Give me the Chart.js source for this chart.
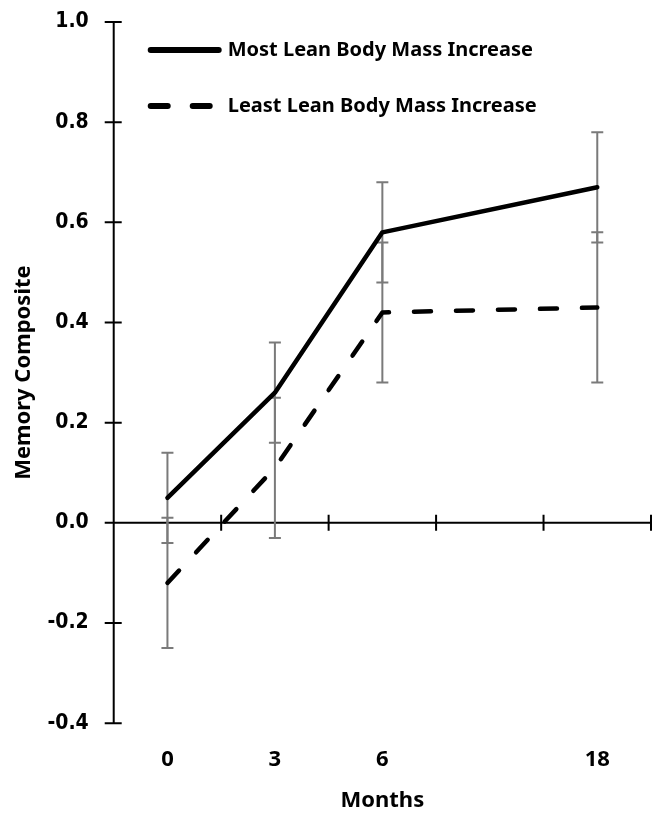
<!DOCTYPE html>
<html>
<head>
<meta charset="utf-8">
<script src="https://cdn.jsdelivr.net/npm/chart.js@4"></script>
<style>
  html, body { margin: 0; padding: 0; background: #fff; }
</style>
</head>
<body>
<canvas id="memoryChart" width="654" height="814"></canvas>
<script>
// values
var months = ['0', '3', '6', '', '18']; // empty slot keeps 6 -> 18 spacing
var mostLean = [0.05, 0.26, 0.58, null, 0.67];
var mostLeanErr = [0.09, 0.10, 0.10, null, 0.11];
var leastLean = [-0.12, 0.11, 0.42, null, 0.43];
var leastLeanErr = [0.13, 0.14, 0.14, null, 0.15];
var yTicks = [-0.4, -0.2, 0.0, 0.2, 0.4, 0.6, 0.8, 1.0];

var labelFont = "'Noto Sans', 'Open Sans', sans-serif";
var tickFont = "'DejaVu Sans Condensed', 'DejaVu Sans', sans-serif";

// axis lines drawn through the zero line, ticks crossing both sides
var crossAxes = {
    id: 'crossAxes',
    beforeDatasetsDraw: function (chart) {
        var ctx = chart.ctx, area = chart.chartArea;
        var x = chart.scales.x, y = chart.scales.y;
        var y0 = y.getPixelForValue(0);
        ctx.save();
        ctx.strokeStyle = '#000';
        ctx.lineWidth = 2;
        ctx.beginPath();
        ctx.moveTo(area.left, area.top);
        ctx.lineTo(area.left, area.bottom);
        yTicks.forEach(function (v) {
            var py = y.getPixelForValue(v);
            ctx.moveTo(area.left - 9, py);
            ctx.lineTo(area.left + 8, py);
        });
        ctx.moveTo(area.left, y0);
        ctx.lineTo(area.right, y0);
        var half = (x.getPixelForValue(1) - x.getPixelForValue(0)) / 2;
        for (var i = 0; i < months.length; i++) {
            var px = x.getPixelForValue(i) + half;
            ctx.moveTo(px, y0 - 8);
            ctx.lineTo(px, y0 + 8);
        }
        ctx.stroke();
        ctx.restore();
    }
};

// grey error bars under the lines
var errorBars = {
    id: 'errorBars',
    beforeDatasetsDraw: function (chart) {
        var ctx = chart.ctx;
        var x = chart.scales.x, y = chart.scales.y;
        ctx.save();
        ctx.strokeStyle = '#7a7a7a';
        ctx.lineWidth = 2;
        chart.data.datasets.forEach(function (ds) {
            ds.data.forEach(function (v, i) {
                if (v === null) return;
                var px = x.getPixelForValue(i);
                var top = y.getPixelForValue(v + ds.errors[i]);
                var bot = y.getPixelForValue(v - ds.errors[i]);
                ctx.beginPath();
                ctx.moveTo(px, top);
                ctx.lineTo(px, bot);
                ctx.moveTo(px - 6, top);
                ctx.lineTo(px + 6, top);
                ctx.moveTo(px - 6, bot);
                ctx.lineTo(px + 6, bot);
                ctx.stroke();
            });
        });
        ctx.restore();
    }
};

// legend sits inside the plot, top left
var innerLegend = {
    id: 'innerLegend',
    afterDatasetsDraw: function (chart) {
        var ctx = chart.ctx, area = chart.chartArea;
        ctx.save();
        chart.data.datasets.forEach(function (ds, i) {
            var ly = area.top + 28 + i * 56;
            ctx.strokeStyle = ds.borderColor;
            ctx.lineWidth = 6;
            ctx.lineCap = 'round';
            ctx.setLineDash(ds.borderDash || []);
            ctx.beginPath();
            ctx.moveTo(area.left + 37, ly);
            ctx.lineTo(area.left + 105, ly);
            ctx.stroke();
            ctx.setLineDash([]);
            ctx.fillStyle = '#000';
            ctx.font = 'bold 20px ' + labelFont;
            ctx.textBaseline = 'middle';
            ctx.fillText(ds.label, area.left + 114, ly);
        });
        ctx.restore();
    }
};

var memoryChart = new Chart(document.getElementById('memoryChart'), {
    type: 'line',
    data: {
        labels: months,
        datasets: [{
                label: 'Most Lean Body Mass Increase',
                data: mostLean,
                errors: mostLeanErr,
                borderColor: '#000',
                borderWidth: 4.5,
                borderJoinStyle: 'round',
                borderCapStyle: 'round',
                pointRadius: 0,
                spanGaps: true,
                fill: false
            },
            {
                label: 'Least Lean Body Mass Increase',
                data: leastLean,
                errors: leastLeanErr,
                borderColor: '#000',
                borderWidth: 4.5,
                borderDash: [17, 25],
                borderJoinStyle: 'round',
                borderCapStyle: 'round',
                pointRadius: 0,
                spanGaps: true,
                fill: false
            }
        ]
    },
    options: {
        responsive: false,
        animation: false,
        devicePixelRatio: 1,
        layout: { padding: { left: 0, right: 3, top: 22, bottom: 0 } },
        plugins: {
            legend: { display: false },
            tooltip: { enabled: false }
        },
        scales: {
            x: {
                type: 'category',
                offset: true,
                // tick marks hidden, tickLength only spaces the labels
                grid: { display: false, drawTicks: true, tickLength: 17 },
                border: { display: false },
                ticks: {
                    color: '#000',
                    font: { family: labelFont, size: 22, weight: 'bold' },
                    padding: 6,
                    autoSkip: false,
                    maxRotation: 0
                },
                title: {
                    display: true,
                    text: 'Months',
                    color: '#000',
                    font: { family: labelFont, size: 22, weight: 'bold' },
                    padding: { top: 9, bottom: 0 }
                }
            },
            y: {
                min: yTicks[0],
                max: yTicks[yTicks.length - 1],
                grid: { display: false, drawTicks: true, tickLength: 20 },
                border: { display: false },
                ticks: {
                    stepSize: 0.2,
                    color: '#000',
                    font: { family: tickFont, size: 21, weight: 'bold' },
                    padding: 5,
                    callback: function (v) {
                        return (Math.abs(v) < 1e-9 ? 0 : v).toFixed(1);
                    }
                },
                title: {
                    display: true,
                    text: 'Memory Composite',
                    color: '#000',
                    font: { family: labelFont, size: 22, weight: 'bold' },
                    padding: { top: 11, bottom: 5 }
                }
            }
        }
    },
    plugins: [crossAxes, errorBars, innerLegend]
});
</script>
</body>
</html>
